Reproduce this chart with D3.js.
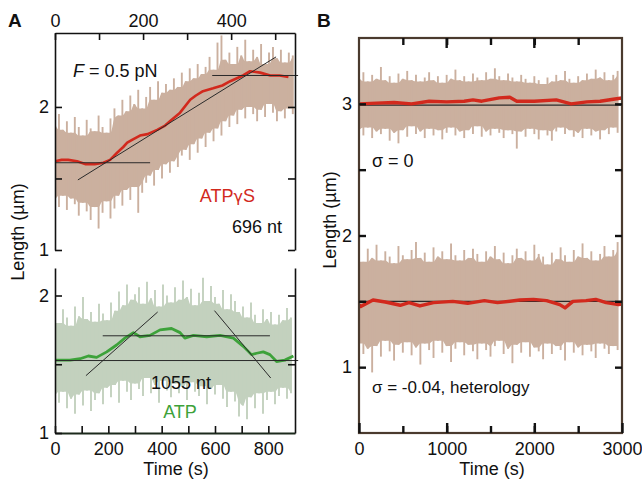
<!DOCTYPE html>
<html>
<head>
<meta charset="utf-8">
<script src="https://cdn.jsdelivr.net/npm/d3@7"></script>
<style>
  body { margin: 0; background: #fff; }
  text { font-family: "Liberation Sans", Arial, sans-serif; }
</style>
</head>
<body>
<svg id="fig" width="642" height="485"></svg>
<script>
// ---- panel A, top trace (ATPgS, 696 nt), sampled every 9 s ----
var noiseStepAT = 9;
var noiseHiAT = [1.88,1.95,1.84,1.90,1.82,1.93,1.86,1.80,1.91,1.85,1.83,1.94,1.86,1.82,1.92,1.99,1.94,2.05,1.97,2.08,2.02,2.12,1.99,2.07,2.14,2.05,2.18,2.10,2.16,2.12,2.20,2.14,2.24,2.18,2.27,2.20,2.30,2.23,2.28,2.35,2.26,2.45,2.50,2.33,2.38,2.30,2.42,2.36,2.47,2.32,2.40,2.35,2.44,2.30,2.38,2.42,2.34,2.40,2.31,2.38,2.36];
var noiseLoAT = [1.35,1.30,1.38,1.28,1.36,1.32,1.24,1.33,1.27,1.21,1.30,1.15,1.26,1.34,1.22,1.29,1.38,1.31,1.42,1.35,1.44,1.26,1.40,1.47,1.52,1.45,1.56,1.50,1.60,1.54,1.62,1.58,1.66,1.70,1.63,1.74,1.68,1.78,1.72,1.82,1.76,1.85,1.80,1.90,1.86,1.94,1.88,1.98,1.92,2.00,1.95,1.90,1.98,1.93,2.02,1.96,1.90,1.97,1.92,1.99,1.95];
var smoothTimeAT = [0,15,30,50,70,90,110,125,141,155,164,175,193,210,232,250,261,284,307,320,336,359,380,398,427,443,466,489,510,530];
var smoothLenAT  = [1.62,1.63,1.63,1.62,1.60,1.60,1.61,1.63,1.68,1.72,1.75,1.77,1.80,1.81,1.84,1.87,1.90,1.96,2.05,2.08,2.11,2.13,2.15,2.18,2.22,2.25,2.24,2.22,2.22,2.21];
var fitsAT = [[[0,1.61],[216,1.61]], [[357,2.22],[552,2.22]], [[52,1.49],[502,2.35]]];

// ---- panel A, bottom trace (ATP, 1055 nt), sampled every 15 s ----
var noiseStepAB = 15;
var noiseHiAB = [1.86,1.80,1.90,1.84,1.78,1.92,1.85,1.99,1.83,1.88,1.81,1.94,1.87,1.82,
  1.95,1.89,2.03,1.93,2.08,1.97,2.01,
  2.06,1.94,2.10,1.98,2.04,1.92,2.08,2.00,1.95,2.06,1.97,2.11,1.99,2.05,1.93,2.02,2.13,1.96,2.07,1.99,1.94,2.04,1.90,2.01,1.96,1.88,
  1.92,1.84,1.95,1.86,1.80,1.90,1.83,1.88,1.79,1.86,1.82,1.91,1.84];
var noiseLoAB = [1.27,1.22,1.30,1.18,1.25,1.14,1.28,1.20,1.31,1.16,1.24,1.29,1.21,1.33,
  1.26,1.35,1.22,1.38,1.30,1.24,1.36,
  1.32,1.27,1.40,1.29,1.35,1.22,1.38,1.31,1.26,1.36,1.29,1.33,1.24,1.37,1.30,1.27,1.34,1.21,1.32,1.28,1.35,1.25,1.19,1.30,1.23,1.12,
  1.20,1.10,1.26,1.18,1.29,1.14,1.24,1.30,1.21,1.27,1.33,1.25,1.29];
var smoothTimeAB = [0,56,94,125,156,194,231,262,294,319,356,394,437,469,487,519,569,619,669,706,737,756,781,806,831,862,894];
var smoothLenAB  = [1.53,1.53,1.54,1.56,1.55,1.59,1.64,1.69,1.73,1.70,1.71,1.75,1.76,1.73,1.69,1.71,1.70,1.71,1.69,1.63,1.57,1.58,1.59,1.57,1.52,1.53,1.56];
var fitsAB = [[[0,1.527],[912,1.527]], [[179,1.707],[806,1.707]], [[116,1.417],[385,1.88]], [[598,1.89],[809,1.40]]];

// ---- panel B, sampled every 50 s ----
var noiseStepB = 50;
var noiseHiBT = [3.20,3.24,3.17,3.22,3.19,3.28,3.18,3.21,3.16,3.23,3.19,3.25,3.18,3.22,3.17,3.20,3.24,3.18,3.21,3.16,3.22,3.19,3.26,3.18,3.21,3.17,3.23,3.20,3.18,3.24,3.19,3.27,3.21,3.18,3.23,3.20,3.17,3.22,3.19,3.16,3.21,3.18,3.15,3.20,3.17,3.22,3.18,3.25,3.19,3.16,3.21,3.18,3.23,3.19,3.26,3.20,3.24,3.18,3.22,3.25];
var noiseLoBT = [2.80,2.76,2.82,2.74,2.79,2.77,2.81,2.72,2.78,2.70,2.80,2.75,2.83,2.77,2.79,2.74,2.81,2.76,2.80,2.73,2.78,2.82,2.76,2.79,2.74,2.80,2.77,2.83,2.75,2.79,2.76,2.81,2.78,2.74,2.80,2.77,2.66,2.79,2.75,2.81,2.77,2.73,2.80,2.76,2.72,2.79,2.82,2.77,2.80,2.75,2.78,2.74,2.81,2.76,2.79,2.73,2.80,2.77,2.82,2.78];
var noiseHiBB = [1.86,1.80,1.90,1.83,1.93,1.81,1.88,1.84,1.79,1.92,1.85,1.82,1.89,1.95,1.83,1.87,1.80,1.91,1.84,1.88,1.82,1.94,1.85,1.81,1.89,1.83,1.90,1.86,1.80,1.88,1.84,1.92,1.82,1.87,1.79,1.85,1.90,1.83,1.88,1.81,1.93,1.86,1.84,1.78,1.87,1.82,1.91,1.85,1.80,1.89,1.84,1.94,1.83,1.88,1.81,1.86,1.92,1.84,1.89,1.95];
var noiseLoBB = [1.18,1.10,1.14,0.96,1.16,1.08,1.20,1.12,1.05,1.17,1.11,1.19,1.09,1.15,1.02,1.18,1.13,1.07,1.20,1.11,1.16,1.04,1.14,1.19,1.09,1.17,1.12,1.06,1.18,1.13,1.08,1.16,1.20,1.10,1.14,1.03,1.17,1.11,1.19,1.08,1.15,1.12,1.06,1.18,1.10,1.16,1.13,1.05,1.19,1.11,1.15,1.09,1.17,1.12,1.07,1.18,1.14,1.10,1.16,1.13];
var smoothTimeBT = [0,200,400,600,800,1000,1200,1300,1400,1600,1720,1800,2000,2250,2420,2600,2750,2900,3000];
var smoothLenBT  = [3.00,3.005,3.01,3.00,3.02,3.015,3.02,3.03,3.02,3.045,3.05,3.02,3.02,3.03,3.00,3.015,3.02,3.035,3.045];
var smoothTimeBB = [0,20,160,300,470,570,695,850,1070,1240,1430,1580,1835,1990,2140,2290,2350,2440,2590,2700,2820,2960,3000];
var smoothLenBB  = [1.47,1.46,1.51,1.495,1.47,1.49,1.465,1.49,1.50,1.485,1.505,1.49,1.51,1.515,1.505,1.475,1.45,1.50,1.505,1.515,1.49,1.475,1.48];
var fitsB = [[[0,2.99],[3000,2.99]], [[0,1.50],[3000,1.50]]];

var tan = "#cbb09f", sage = "#c3d1be", red = "#d2291d", green = "#3da23a";

var svg = d3.select("#fig");

// scales
var xAT = d3.scaleLinear().domain([0, 545]).range([55, 295]);
var yAT = d3.scaleLinear().domain([1, 2.517]).range([250, 33]);
var xAB = d3.scaleLinear().domain([0, 900]).range([55, 295]);
var yAB = d3.scaleLinear().domain([1, 2.2]).range([433, 268]);
var xB  = d3.scaleLinear().domain([0, 3000]).range([359, 622]);
var yB  = d3.scaleLinear().domain([0.5, 3.5]).range([433, 38]);

function clipFor(id, x, y) {
  svg.append("clipPath").attr("id", id).append("rect")
    .attr("x", x.range()[0]).attr("width", x.range()[1] - x.range()[0])
    .attr("y", y.range()[1]).attr("height", y.range()[0] - y.range()[1]);
}
clipFor("cAT", xAT, yAT);
clipFor("cAB", xAB, yAB);
clipFor("cB", xB, yB);

// noisy raw trace: solid core (neighbour min/max) plus a thin spike per sample
function noise(g, x, y, dt, hi, lo, color) {
  var n = hi.length;
  var coreHi = hi.map(function(d, i) { return d3.min(hi.slice(Math.max(0, i - 1), i + 2)); });
  var coreLo = lo.map(function(d, i) { return d3.max(lo.slice(Math.max(0, i - 1), i + 2)); });
  var area = d3.area()
    .x(function(d, i) { return x(i * dt); })
    .y0(function(d, i) { return y(coreLo[i]); })
    .y1(function(d, i) { return y(coreHi[i]); })
    .curve(d3.curveMonotoneX);
  g.append("path").attr("d", area(hi)).attr("fill", color);
  g.append("g").selectAll("line").data(hi).enter().append("line")
    .attr("x1", function(d, i) { return x(i * dt); })
    .attr("x2", function(d, i) { return x(i * dt); })
    .attr("y1", function(d) { return y(d); })
    .attr("y2", function(d, i) { return y(lo[i]); })
    .attr("stroke", color).attr("stroke-width", 1.9);
}
function smooth(g, x, y, ts, vs, color, w) {
  var line = d3.line().x(function(d) { return x(d); }).y(function(d, i) { return y(vs[i]); });
  g.append("path").attr("d", line(ts)).attr("fill", "none")
    .attr("stroke", color).attr("stroke-width", w).attr("stroke-linejoin", "round");
}
function fits(g, x, y, segs, w) {
  g.selectAll(null).data(segs).enter().append("line")
    .attr("x1", function(d) { return x(d[0][0]); }).attr("y1", function(d) { return y(d[0][1]); })
    .attr("x2", function(d) { return x(d[1][0]); }).attr("y2", function(d) { return y(d[1][1]); })
    .attr("stroke", "#2a2a2a").attr("stroke-width", w);
}

// ----- A top -----
var gAT = svg.append("g").attr("clip-path", "url(#cAT)");
noise(gAT, xAT, yAT, noiseStepAT, noiseHiAT, noiseLoAT, tan);
smooth(gAT, xAT, yAT, smoothTimeAT, smoothLenAT, red, 2.6);
fits(svg.append("g"), xAT, yAT, fitsAT, 1);

// ----- A bottom -----
var gAB = svg.append("g").attr("clip-path", "url(#cAB)");
noise(gAB, xAB, yAB, noiseStepAB, noiseHiAB, noiseLoAB, sage);
smooth(gAB, xAB, yAB, smoothTimeAB, smoothLenAB, green, 2.8);
fits(svg.append("g"), xAB, yAB, fitsAB, 1);

// ----- B -----
var gB = svg.append("g").attr("clip-path", "url(#cB)");
noise(gB, xB, yB, noiseStepB, noiseHiBT, noiseLoBT, tan);
noise(gB, xB, yB, noiseStepB, noiseHiBB, noiseLoBB, tan);
fits(gB, xB, yB, fitsB, 1.2);
smooth(gB, xB, yB, smoothTimeBT, smoothLenBT, red, 3.4);
smooth(gB, xB, yB, smoothTimeBB, smoothLenBB, red, 3.4);

// ----- axes -----
function styleAxis(g, domainColor, domainWidth, tickWidth) {
  g.select(".domain").attr("stroke", domainColor).attr("stroke-width", domainWidth);
  g.selectAll(".tick line").attr("stroke", "#111").attr("stroke-width", tickWidth);
  g.selectAll(".tick text").attr("font-size", 18).attr("fill", "#111")
    .attr("font-family", '"Liberation Sans", Arial, sans-serif');
}
var intFmt = function(d) { return d % 1 === 0 ? d : ""; };
var noFmt = function() { return ""; };

// A top
styleAxis(svg.append("g").attr("transform", "translate(0,33)")
  .call(d3.axisTop(xAT).tickValues([0,100,200,300,400,500]).tickSize(-7).tickSizeOuter(0).tickPadding(6)
    .tickFormat(function(d) { return d % 200 === 0 ? d : ""; })), "#111", 1.6, 1.6);
styleAxis(svg.append("g").attr("transform", "translate(55,0)")
  .call(d3.axisLeft(yAT).tickValues([1,1.5,2]).tickSize(-7).tickSizeOuter(0).tickPadding(6).tickFormat(intFmt)), "#111", 1.6, 1.6);
styleAxis(svg.append("g").attr("transform", "translate(295,0)")
  .call(d3.axisRight(yAT).tickValues([1,1.5,2]).tickSize(-7).tickSizeOuter(0).tickFormat(noFmt)), "#111", 1.6, 1.6);

// A bottom
styleAxis(svg.append("g").attr("transform", "translate(0,433)")
  .call(d3.axisBottom(xAB).tickValues([0,100,200,300,400,500,600,700,800]).tickSize(-7).tickSizeOuter(0).tickPadding(9)
    .tickFormat(function(d) { return d % 200 === 0 ? d : ""; })), "#1c2a1c", 1.8, 1.6);
styleAxis(svg.append("g").attr("transform", "translate(55,0)")
  .call(d3.axisLeft(yAB).tickValues([1,1.5,2]).tickSize(-7).tickSizeOuter(0).tickPadding(6).tickFormat(intFmt)), "#111", 1.6, 1.6);
styleAxis(svg.append("g").attr("transform", "translate(295,0)")
  .call(d3.axisRight(yAB).tickValues([1.5,2]).tickSize(-7).tickSizeOuter(0).tickFormat(noFmt)), "#111", 1.6, 1.6);

// B frame + ticks
svg.append("rect").attr("x", 359).attr("y", 38).attr("width", 263).attr("height", 395)
  .attr("fill", "none").attr("stroke", "#4a3a2e").attr("stroke-width", 2.2);
var bx = [500,1000,1500,2000,2500], by = [1,1.5,2,2.5,3];
[
  [d3.axisBottom(xB).tickValues([0,1000,2000,3000]).tickSize(-10).tickPadding(9).tickFormat(function(d) { return d; }), "translate(0,433)"],
  [d3.axisBottom(xB).tickValues(bx).tickSize(-7).tickFormat(noFmt), "translate(0,433)"],
  [d3.axisTop(xB).tickValues(bx).tickSize(-7).tickFormat(noFmt), "translate(0,38)"],
  [d3.axisLeft(yB).tickValues(by).tickSize(-7).tickPadding(7).tickFormat(intFmt), "translate(359,0)"],
  [d3.axisRight(yB).tickValues(by).tickSize(-7).tickFormat(noFmt), "translate(622,0)"]
].forEach(function(a) {
  var g = svg.append("g").attr("transform", a[1]).call(a[0]);
  styleAxis(g, "none", 0, 2.4);
});
// longer ticks at the 1000 s marks
svg.selectAll(null).data([1000, 2000]).enter().append("line")
  .attr("x1", function(d) { return xB(d); }).attr("x2", function(d) { return xB(d); })
  .attr("y1", 38).attr("y2", 48).attr("stroke", "#111").attr("stroke-width", 2.4);

// ----- text -----
function label(x, y, s, opts) {
  opts = opts || {};
  var t = svg.append("text").attr("x", x).attr("y", y)
    .attr("font-size", opts.size || 18).attr("fill", opts.fill || "#111")
    .attr("text-anchor", opts.anchor || "start");
  if (opts.weight) t.attr("font-weight", opts.weight);
  if (opts.rotate) t.attr("transform", "rotate(-90," + x + "," + y + ")");
  return t.text(s);
}
label(8, 27, "A", {size: 19, weight: "bold"});
label(317, 27, "B", {size: 19, weight: "bold"});
label(24, 232, "Length (\u00b5m)", {anchor: "middle", rotate: true});
label(336, 220, "Length (\u00b5m)", {anchor: "middle", rotate: true});
label(176, 475, "Time (s)", {anchor: "middle"});
label(492, 475, "Time (s)", {anchor: "middle"});

var f = label(73, 77, "", {size: 18});
f.append("tspan").attr("font-style", "italic").text("F");
f.append("tspan").text(" = 0.5 pN");
var atpg = label(255, 202, "", {anchor: "end", fill: red});
atpg.append("tspan").text("ATP");
atpg.append("tspan").attr("font-family", "DejaVu Sans").attr("font-size", 16).text("\u03b3");
atpg.append("tspan").text("S");
label(282, 233, "696 nt", {anchor: "end"});
label(181, 389, "1055 nt", {anchor: "middle"});
label(180, 418, "ATP", {anchor: "middle", fill: green});
label(372, 167, "\u03c3 = 0", {size: 18});
label(372, 393, "\u03c3 = -0.04, heterology", {size: 17});
</script>
</body>
</html>
